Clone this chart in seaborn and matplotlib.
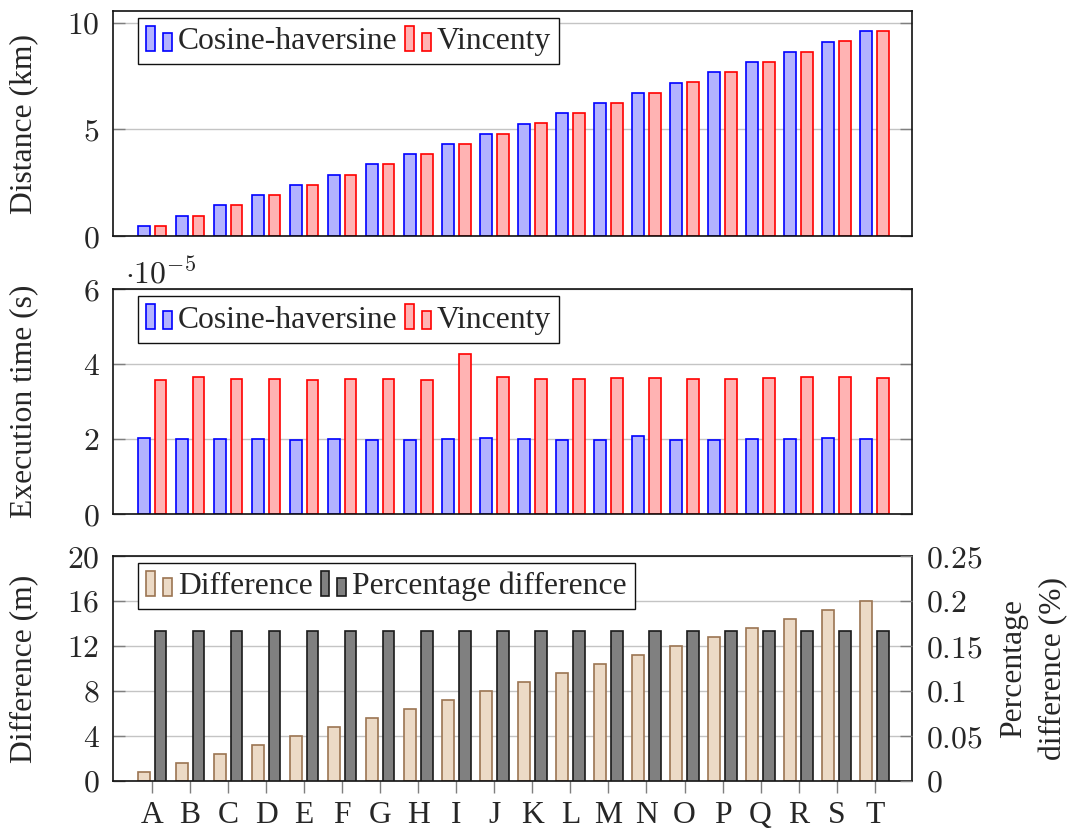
import matplotlib
matplotlib.use("Agg")
import matplotlib.pyplot as plt
from matplotlib.patches import Rectangle
from matplotlib.legend_handler import HandlerBase
from matplotlib.ticker import FixedLocator, FuncFormatter
import pandas as pd
import seaborn as sns

# ---- data -------------------------------------------------------------
sites = list("ABCDEFGHIJKLMNOPQRST")
methods = ["Cosine-haversine", "Vincenty"]

dist_cosine_km = [0.48, 0.96, 1.44, 1.92, 2.40, 2.88, 3.36, 3.84, 4.32, 4.80,
                  5.28, 5.76, 6.24, 6.72, 7.20, 7.68, 8.16, 8.64, 9.12, 9.60]
dist_vincenty_km = [0.4808, 0.9616, 1.4424, 1.9232, 2.4040, 2.8848, 3.3656, 3.8464,
                    4.3272, 4.8080, 5.2888, 5.7696, 6.2504, 6.7312, 7.2120, 7.6928,
                    8.1736, 8.6544, 9.1352, 9.6160]

# execution time in units of 1e-5 s
time_cosine = [2.03, 2.00, 2.00, 2.00, 1.99, 2.00, 1.98, 1.99, 2.00, 2.04,
               2.00, 1.99, 1.98, 2.08, 1.99, 1.98, 2.00, 2.02, 2.04, 2.02]
time_vincenty = [3.59, 3.65, 3.60, 3.62, 3.58, 3.60, 3.62, 3.58, 4.27, 3.67,
                 3.62, 3.61, 3.63, 3.63, 3.62, 3.60, 3.63, 3.65, 3.67, 3.63]

diff_m = [0.8, 1.6, 2.4, 3.2, 4.0, 4.8, 5.6, 6.4, 7.2, 8.0,
          8.8, 9.6, 10.4, 11.2, 12.0, 12.8, 13.6, 14.4, 15.2, 16.0]
pct_diff = [0.1667, 0.1667, 0.1667, 0.1667, 0.1667, 0.1667, 0.1667, 0.1667, 0.1667, 0.1667,
            0.1667, 0.1667, 0.1667, 0.1667, 0.1667, 0.1667, 0.1667, 0.1667, 0.1667, 0.1667]

diff_labels = ["Difference", "Percentage difference"]

# ---- styling ------------------------------------------------------------
sns.set_theme(style="white")
plt.rcParams["font.family"] = ["Liberation Serif", "DejaVu Serif"]
plt.rcParams["mathtext.fontset"] = "cm"
FS = 22.8

BLUE_FILL, BLUE_EDGE = "#b3b3ff", "#0000ff"
RED_FILL, RED_EDGE = "#ffb3b3", "#ff0000"
BROWN_FILL, BROWN_EDGE = "#ecdac6", "#9b7452"
GRAY_FILL, GRAY_EDGE = "#808080", "#1a1a1a"
GRID_C = "#c4c4c4"
TICK_C = "#7f7f7f"


class TwinBarHandler(HandlerBase):
    """Legend key drawn as two little bars of unequal height."""

    def create_artists(self, legend, orig_handle, xdescent, ydescent,
                       width, height, fontsize, trans):
        w = width * 0.34
        x0, y0 = -xdescent, -ydescent
        r1 = Rectangle((x0, y0), w, height)
        r2 = Rectangle((x0 + width - w, y0), w, height * 0.72)
        for r in (r1, r2):
            r.set_facecolor(orig_handle.get_facecolor())
            r.set_edgecolor(orig_handle.get_edgecolor())
            r.set_linewidth(1.2)
            r.set_transform(trans)
        return [r1, r2]


def cm_fmt(v, _):
    return r"$%g$" % v


def long_frame(a, b, labels, col):
    return pd.DataFrame({
        "site": sites * 2,
        "series": [labels[0]] * len(sites) + [labels[1]] * len(sites),
        col: list(a) + list(b),
    })


def style_axis(ax, yticks, ylim, right_ticks=True):
    ax.set_xlim(-1.02, 19.99)
    ax.set_ylim(*ylim)
    ax.yaxis.set_major_locator(FixedLocator(yticks))
    ax.yaxis.set_major_formatter(FuncFormatter(cm_fmt))
    ax.tick_params(axis="y", direction="in", length=8.4, width=1.0, color=TICK_C,
                   labelsize=FS, pad=10, left=True, right=right_ticks, labelleft=True)
    ax.grid(axis="y", color=GRID_C, linewidth=1.0)
    ax.grid(axis="x", visible=False)
    ax.set_axisbelow(True)
    for s in ax.spines.values():
        s.set_color("#111111")
        s.set_linewidth(1.2)
        s.set_visible(True)
    ax.set_xlabel("")


def color_edges(ax, edges, lw=1.2):
    for cont, ec in zip(ax.containers, edges):
        for p in cont:
            p.set_edgecolor(ec)
            p.set_linewidth(lw)


def add_legend(ax, labels, fills, edges):
    handles = [Rectangle((0, 0), 1, 1, facecolor=f, edgecolor=e) for f, e in zip(fills, edges)]
    leg = ax.legend(handles, labels, loc="upper left",
                    bbox_to_anchor=(25 / 799, 1 - 7 / 225), borderaxespad=0,
                    ncol=2, fontsize=FS, frameon=True, fancybox=False,
                    handler_map={Rectangle: TwinBarHandler()},
                    handlelength=0.8, handleheight=0.83, handletextpad=0.2,
                    columnspacing=0.25, borderpad=0.25)
    fr = leg.get_frame()
    fr.set_edgecolor("#111111")
    fr.set_linewidth(1.0)
    fr.set_alpha(1)
    return leg


fig = plt.figure(figsize=(10.69, 8.34), dpi=100)
W = 799 / 1069
L = 113.3 / 1069
H = 225 / 834
ax1 = fig.add_axes([L, 1 - 236 / 834, W, H])
ax2 = fig.add_axes([L, 1 - 514.3 / 834, W, H])
ax3 = fig.add_axes([L, 1 - 781 / 834, W, H])

bar_kw = dict(x="site", hue="series", order=sites, width=0.88, gap=0.3,
              dodge=True, errorbar=None, saturation=1, legend=False)

# ---- distance -----------------------------------------------------------
df_dist = long_frame(dist_cosine_km, dist_vincenty_km, methods, "km")
sns.barplot(data=df_dist, y="km", hue_order=methods,
            palette=[BLUE_FILL, RED_FILL], ax=ax1, **bar_kw)
color_edges(ax1, [BLUE_EDGE, RED_EDGE])
style_axis(ax1, [0, 5, 10], (0, 10.56))
ax1.tick_params(axis="x", bottom=False, labelbottom=False)
ax1.set_ylabel("Distance (km)", fontsize=FS)
add_legend(ax1, methods, [BLUE_FILL, RED_FILL], [BLUE_EDGE, RED_EDGE])

# ---- execution time -----------------------------------------------------
df_time = long_frame(time_cosine, time_vincenty, methods, "t")
sns.barplot(data=df_time, y="t", hue_order=methods,
            palette=[BLUE_FILL, RED_FILL], ax=ax2, **bar_kw)
color_edges(ax2, [BLUE_EDGE, RED_EDGE])
style_axis(ax2, [0, 2, 4, 6], (0, 6))
ax2.tick_params(axis="x", bottom=False, labelbottom=False)
ax2.set_ylabel("Execution time (s)", fontsize=FS)
ax2.text(11.7 / 799, 1 + 6.3 / 225, r"$\cdot 10^{-5}$", transform=ax2.transAxes,
         fontsize=FS, ha="left", va="baseline")
add_legend(ax2, methods, [BLUE_FILL, RED_FILL], [BLUE_EDGE, RED_EDGE])

# ---- difference / percentage difference --------------------------------
ax3b = ax3.twinx()
df_diff = pd.DataFrame({"site": sites, "series": diff_labels[0], "m": diff_m})
df_pct = pd.DataFrame({"site": sites, "series": diff_labels[1], "pct": pct_diff})
sns.barplot(data=df_diff, y="m", hue_order=diff_labels,
            palette=[BROWN_FILL, GRAY_FILL], ax=ax3, **bar_kw)
sns.barplot(data=df_pct, y="pct", hue_order=diff_labels,
            palette=[BROWN_FILL, GRAY_FILL], ax=ax3b, **bar_kw)
for p in ax3.patches:
    p.set_edgecolor(BROWN_EDGE)
    p.set_linewidth(1.2)
for p in ax3b.patches:
    p.set_edgecolor(GRAY_EDGE)
    p.set_linewidth(1.2)

style_axis(ax3, [0, 4, 8, 12, 16, 20], (0, 20), right_ticks=False)
ax3.tick_params(axis="x", bottom=True, direction="out", length=8.4, width=1.0,
                color=TICK_C, labelsize=FS, pad=6)
ax3.set_xticks(range(len(sites)))
ax3.set_xticklabels(sites)
ax3.set_ylabel("Difference (m)", fontsize=FS)

ax3b.set_ylim(0, 0.25)
ax3b.set_xlim(-1.02, 19.99)
ax3b.yaxis.set_major_locator(FixedLocator([0, 0.05, 0.1, 0.15, 0.2, 0.25]))
ax3b.yaxis.set_major_formatter(FuncFormatter(cm_fmt))
ax3b.tick_params(axis="y", direction="in", length=8.4, width=1.0, color=TICK_C,
                 labelsize=FS, pad=10, left=False, right=True, labelright=True)
ax3b.set_ylabel("")
ax3b.grid(False)
for s in ax3b.spines.values():
    s.set_visible(False)
fig.text(1034 / 1069, 1 - 668.5 / 834, "Percentage\ndifference (%)", rotation=90,
         ha="center", va="center", fontsize=FS, multialignment="center",
         linespacing=1.5)
add_legend(ax3b, diff_labels, [BROWN_FILL, GRAY_FILL], [BROWN_EDGE, GRAY_EDGE])

for ax in (ax1, ax2, ax3):
    ax.yaxis.set_label_coords(-0.094, 0.5)

fig.savefig("out.png", dpi=100)
